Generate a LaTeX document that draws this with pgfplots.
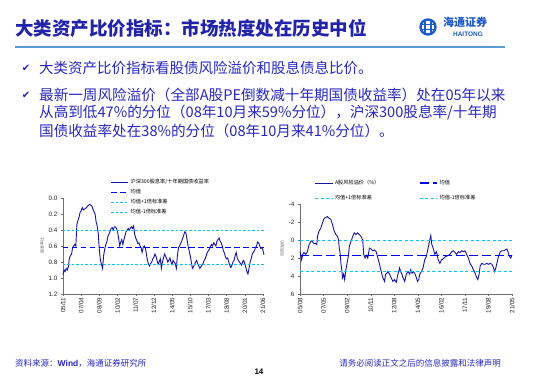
\documentclass[border=0pt]{standalone}
\usepackage{pgfplots}
\pgfplotsset{compat=1.18}
\usepackage{pgfplotstable}
\usepackage{fontspec}
\setmainfont{Liberation Sans}
\newfontfamily\cjk{Noto Sans CJK SC}
\newfontfamily\sym{DejaVu Sans}
\definecolor{titleblue}{RGB}{35,35,170}
\definecolor{txtblue}{RGB}{40,40,195}
\definecolor{rulec}{RGB}{90,155,213}
\definecolor{logoblue}{RGB}{30,90,200}
\definecolor{seriesblue}{RGB}{20,20,175}
\definecolor{meanblue}{RGB}{0,0,255}
\definecolor{cyanl}{RGB}{0,200,250}
\definecolor{axgray}{RGB}{110,110,110}

\pgfplotstableread{
m v
0 0.96
1 0.9
2 0.92
3 0.88
4 0.9
5 0.86
6 0.75
7 0.72
8 0.7
9 0.62
10 0.6
11 0.58
12 0.6
13 0.33
14 0.28
15 0.24
16 0.18
17 0.16
18 0.12
19 0.15
20 0.14
21 0.13
22 0.12
23 0.1
24 0.09
25 0.08
26 0.09
27 0.1
28 0.14
29 0.17
30 0.2
31 0.3
32 0.35
33 0.45
34 0.65
35 0.78
36 0.83
37 0.88
38 0.72
39 0.64
40 0.58
41 0.55
42 0.48
43 0.45
44 0.42
45 0.38
46 0.37
47 0.4
48 0.36
49 0.36
50 0.38
51 0.42
52 0.5
53 0.6
54 0.55
55 0.52
56 0.58
57 0.52
58 0.47
59 0.42
60 0.4
61 0.38
62 0.4
63 0.38
64 0.36
65 0.38
66 0.35
67 0.45
68 0.5
69 0.53
70 0.57
71 0.56
72 0.6
73 0.62
74 0.68
75 0.62
76 0.6
77 0.62
78 0.7
79 0.78
80 0.83
81 0.85
82 0.82
83 0.8
84 0.76
85 0.74
86 0.7
87 0.73
88 0.78
89 0.83
90 0.8
91 0.76
92 0.88
93 0.8
94 0.75
95 0.7
96 0.73
97 0.76
98 0.8
99 0.78
100 0.75
101 0.8
102 0.83
103 0.78
104 0.8
105 0.82
106 0.88
107 0.72
108 0.62
109 0.6
110 0.57
111 0.54
112 0.5
113 0.46
114 0.42
115 0.44
116 0.52
117 0.6
118 0.66
119 0.72
120 0.8
121 0.88
122 0.86
123 0.83
124 0.8
125 0.78
126 0.82
127 0.85
128 0.88
129 0.86
130 0.84
131 0.82
132 0.78
133 0.76
134 0.72
135 0.68
136 0.66
137 0.64
138 0.6
139 0.58
140 0.6
141 0.56
142 0.58
143 0.6
144 0.54
145 0.52
146 0.5
147 0.54
148 0.56
149 0.6
150 0.66
151 0.69
152 0.74
153 0.76
154 0.75
155 0.8
156 0.84
157 0.87
158 0.84
159 0.8
160 0.78
161 0.72
162 0.68
163 0.75
164 0.78
165 0.8
166 0.82
167 0.84
168 0.8
169 0.78
170 0.82
171 0.87
172 0.92
173 0.95
174 0.88
175 0.8
176 0.76
177 0.7
178 0.68
179 0.66
180 0.62
181 0.6
182 0.55
183 0.56
184 0.6
185 0.63
186 0.62
187 0.65
188 0.71
}\divtable

\pgfplotstableread{
m v
0 1.3
0.6 1.6
1.5 2.2
2.4 1.6
3.6 1.4
5.1 1.6
6.6 1.3
8.1 0.5
9.0 0.3
10.2 0.07
11.1 0.2
12.6 0.4
14.1 0.4
15.0 0.5
15.6 -0.4
17.0 -1.0
18.5 -1.3
20.0 -1.9
21.5 -2.4
23.0 -2.5
24.5 -2.6
26.0 -2.4
27.5 -2.3
29.0 -1.7
30.5 -1.0
32.0 -0.6
33.5 -0.4
34.4 0
35.0 0.9
35.9 1.6
36.5 2.6
37.4 3.5
38.0 4.2
38.9 3.8
39.8 4.4
40.7 3.5
41.9 2.6
43.1 1.8
44.0 0.7
45.5 0.15
47.0 -0.4
48.4 -0.8
49.9 -0.6
51.4 -0.8
52.9 -0.6
54.4 -0.4
55.9 0
56.8 1.6
58.0 2.0
59.2 1.7
60.4 2.0
61.9 0.9
63.4 1.0
64.9 1.2
66.4 1.1
67.9 1.3
69.4 2.0
70.9 2.7
72.4 3.5
73.9 4.2
75.4 4.6
76.3 3.8
77.5 3.7
78.4 3.5
79.8 3.8
81.3 4.2
82.8 4.6
84.3 4.4
85.8 4.7
87.3 3.8
88.8 3.1
89.7 3.5
90.9 3.8
91.8 4.2
93.3 4.6
94.8 3.8
96.3 3.5
97.8 3.8
98.7 3.3
99.9 3.7
100.8 3.5
102.3 3.7
103.8 4.2
104.7 4.6
105.9 4.4
106.8 3.8
108.3 3.5
109.7 3.1
111.2 2.2
112.7 1.8
114.2 0.9
115.7 0
116.6 -0.5
117.5 0.5
118.7 0.9
120.2 1.6
121.7 1.3
123.2 2.2
124.7 2.6
126.2 2.2
127.7 2.1
129.2 1.9
130.7 1.8
132.2 1.7
133.7 1.6
135.2 1.3
136.7 1.2
138.2 1.4
139.7 1.6
141.2 1.3
142.6 1.4
144.1 1.2
145.6 1.3
147.1 1.2
148.6 1.6
150.1 2.0
151.6 2.6
153.1 2.9
154.6 3.3
156.1 3.7
157.6 4.2
158.5 4.4
159.7 3.8
160.6 2.9
162.1 2.6
163.6 2.7
165.1 2.7
166.6 2.6
168.1 2.7
169.6 2.6
171.1 2.7
172.6 3.1
173.4 3.5
174.6 3.1
175.5 2.6
177.0 1.8
178.5 1.3
180.0 1.2
181.5 1.2
183.0 1.1
184.5 1.0
185.4 1.3
186.6 1.8
187.8 2.0
189.0 1.7
}\erptable

\pgfplotsset{
  slidechart/.style={
    scale only axis,
    anchor=south west,
    y dir=reverse,
    axis lines*=left,
    axis line style={axgray, -},
    tick style={axgray},
    tick align=outside,
    major tick length=2pt,
    /pgf/number format/assume math mode=true,
    ticklabel style={font=\fontsize{6.3}{7}\selectfont, text=black!85},
    x tick label style={rotate=90, anchor=east, inner sep=1.5pt},
    ylabel style={font=\cjk\fontsize{4}{5}\selectfont, text=black!60},
    clip=false,
  }
}

\begin{document}
\begin{tikzpicture}
\useasboundingbox[fill=white] (0,0) rectangle (550pt,380pt);

% title
\node[anchor=west, text=titleblue, inner sep=0pt] at (15pt,352pt)
  {\fontsize{18.5}{20}\cjk\bfseries 大类资产比价指标：市场热度处在历史中位};
\draw[rulec, line width=1.8pt] (15pt,333pt) -- (505pt,333pt);

% logo
\draw[logoblue, line width=2.4pt] (428pt,353pt) circle (7.5pt);
\draw[logoblue, line width=1.3pt] (425pt,346pt) -- (425pt,360pt) (431pt,346pt) -- (431pt,360pt);
\draw[logoblue, line width=1.3pt] (421pt,350.5pt) -- (435pt,350.5pt) (421pt,355.5pt) -- (435pt,355.5pt);
\node[anchor=west, text=logoblue, inner sep=0pt] at (443pt,358pt)
  {\fontsize{11}{12}\cjk\bfseries\itshape 海通证券};
\node[text=logoblue, inner sep=0pt] at (468pt,346pt)
  {\fontsize{6.5}{7}\selectfont\bfseries HAITONG};

% bullets
\node[text=titleblue, inner sep=0pt] at (26pt,312pt) {\sym\fontsize{10}{12}\selectfont ✔};
\node[text=titleblue, inner sep=0pt] at (26pt,285pt) {\sym\fontsize{10}{12}\selectfont ✔};
\node[anchor=west, text=txtblue, inner sep=0pt] at (39pt,312pt)
  {\cjk\fontsize{14.5}{16}\selectfont 大类资产比价指标看股债风险溢价和股息债息比价。};
\node[anchor=west, text=txtblue, inner sep=0pt] at (39pt,285pt)
  {\cjk\fontsize{14.6}{16}\selectfont 最新一周风险溢价（全部A股PE倒数减十年期国债收益率）处在05年以来};
\node[anchor=west, text=txtblue, inner sep=0pt] at (39pt,267pt)
  {\cjk\fontsize{14.6}{16}\selectfont 从高到低47\%的分位（08年10月来59\%分位），沪深300股息率/十年期};
\node[anchor=west, text=txtblue, inner sep=0pt] at (39pt,249pt)
  {\cjk\fontsize{14.6}{16}\selectfont 国债收益率处在38\%的分位（08年10月来41\%分位）。};

% left chart
\begin{axis}[slidechart,
  at={(63pt,86pt)}, width=201pt, height=96pt,
  xmin=0, xmax=188, ymin=0, ymax=1.2,
  xtick={0,17,34,51,68,85,102,119,136,153,170,187},
  xticklabels={05/11,07/04,08/09,10/02,11/07,12/12,14/05,15/10,17/03,18/08,20/01,21/06},
  ytick={0,0.2,0.4,0.6,0.8,1.0,1.2},
  yticklabel style={/pgf/number format/.cd, fixed, fixed zerofill, precision=1},
  ylabel={股息率比}, ylabel style={yshift=-2pt},
  legend style={at={(0.235,1.215)}, anchor=north west, draw=none, fill=none,
    font=\cjk\fontsize{5.2}{6}\selectfont, inner sep=0pt, row sep=0pt,
    cells={anchor=west}},
  legend cell align=left,
]
\addplot[color=seriesblue, line width=0.9pt] table[x=m, y=v] {\divtable};
\addlegendentry{沪深300股息率/十年期国债收益率}
\addplot[color=meanblue, line width=1.2pt, dash pattern=on 5.5pt off 3.5pt] coordinates {(0,0.617) (188,0.617)};
\addlegendentry{均值}
\addplot[color=cyanl, line width=0.8pt, dash pattern=on 2.5pt off 2pt] coordinates {(0,0.41) (188,0.41)};
\addlegendentry{均值+1倍标准差}
\addplot[color=cyanl, line width=0.8pt, dash pattern=on 2.5pt off 2pt] coordinates {(0,0.83) (188,0.83)};
\addlegendentry{均值-1倍标准差}
\end{axis}

% right chart
\begin{axis}[slidechart,
  at={(300pt,86pt)}, width=212pt, height=90pt,
  xmin=0, xmax=189, ymin=-4, ymax=6,
  xtick={0,21,42,63,84,105,126,147,168,189},
  xticklabels={05/08,07/05,09/02,10/11,12/08,14/05,16/02,17/11,19/08,21/05},
  ytick={-4,-2,0,2,4,6},
  ylabel={风险溢价}, ylabel style={yshift=-2pt},
  legend columns=2,
  legend style={at={(0.07,1.29)}, anchor=north west, draw=none, fill=none,
    font=\cjk\fontsize{5.2}{6}\selectfont, inner sep=0pt, row sep=5pt,
    cells={anchor=west},
    /tikz/every even column/.append style={column sep=38pt}},
  legend cell align=left,
]
\addplot[color=seriesblue, line width=0.9pt] table[x=m, y=v] {\erptable};
\addlegendentry{A股风险溢价（\%）}
\addplot[color=meanblue, line width=1.2pt, dash pattern=on 9pt off 4pt] coordinates {(0,1.72) (189,1.72)};
\addlegendentry{均值}
\addplot[color=cyanl, line width=0.8pt, dash pattern=on 3pt off 2.5pt] coordinates {(0,0.06) (189,0.06)};
\addlegendentry{均值+1倍标准差}
\addplot[color=cyanl, line width=0.8pt, dash pattern=on 3pt off 2.5pt] coordinates {(0,3.45) (189,3.45)};
\addlegendentry{均值-1倍标准差}
\end{axis}

% footer
\node[anchor=west, text=txtblue, inner sep=0pt] at (15pt,17pt)
  {\cjk\fontsize{8.5}{10}\selectfont 资料来源：{\fontspec{Liberation Sans}\bfseries Wind}，海通证券研究所};
\node[anchor=east, text=txtblue, inner sep=0pt] at (501pt,17pt)
  {\cjk\fontsize{8.5}{10}\selectfont 请务必阅读正文之后的信息披露和法律声明};
\node[inner sep=0pt] at (259pt,8pt) {\fontsize{8}{9}\selectfont\bfseries 14};
\end{tikzpicture}
\end{document}
